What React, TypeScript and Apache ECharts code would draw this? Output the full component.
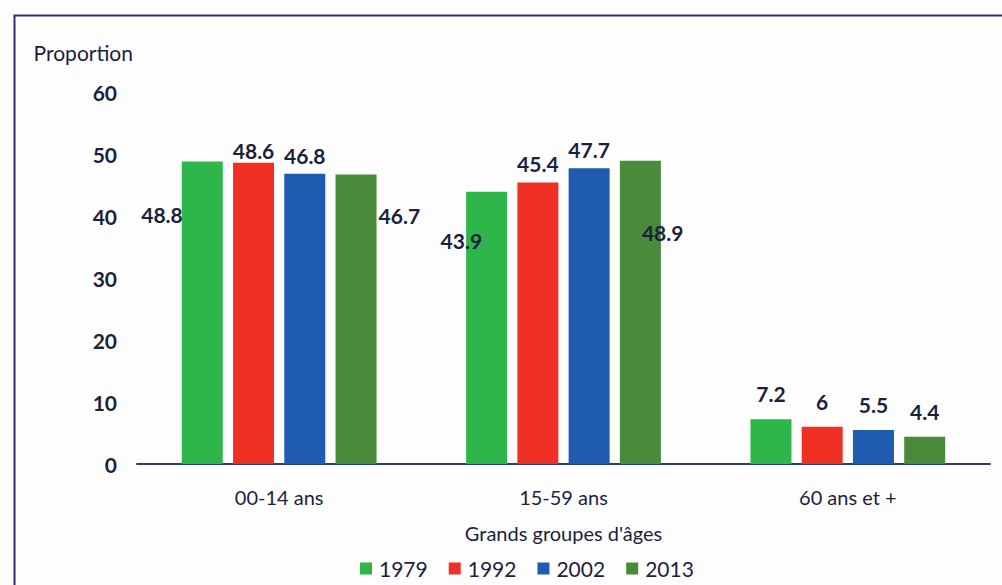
import React, { useEffect, useRef } from "react";
import * as echarts from "echarts";

const categories = ["00-14 ans", "15-59 ans", "60 ans et +"];
const years = ["1979", "1992", "2002", "2013"];
const values1979 = [48.8, 43.9, 7.2];
const values1992 = [48.6, 45.4, 6];
const values2002 = [46.8, 47.7, 5.5];
const values2013 = [46.7, 48.9, 4.4];
const yTicks = { min: 0, max: 60, interval: 10 };

const seriesValues = [values1979, values1992, values2002, values2013];
const colors = ["#2fb64a", "#ee3124", "#1f5bb0", "#4a8a3b"];
const textColor = "#1c1f3f";
const font = "Lato, 'Open Sans', sans-serif";

// label placement overrides (series index - category index)
const labelOverrides: Record<string, any> = {
  "0-0": { position: [1, 53], align: "right", verticalAlign: "middle" },
  "3-0": { position: [43, 41], align: "left", verticalAlign: "middle" },
  "0-1": { position: [16, 49], align: "right", verticalAlign: "middle" },
  "3-1": { position: [22, 72], align: "left", verticalAlign: "middle" },
  "1-0": { position: "top", distance: 2 },
  "2-0": { position: "top", distance: 8 },
  "1-1": { position: "top", distance: 9 },
  "2-1": { position: "top", distance: 8 },
  "0-2": { position: "top", distance: 15 },
  "1-2": { position: "top", distance: 15 },
  "2-2": { position: "top", distance: 15 },
  "3-2": { position: "top", distance: 15 },
};

export default function App() {
  const ref = useRef<HTMLDivElement>(null);
  useEffect(() => {
    document.body.style.margin = "0";
    const chart = echarts.init(ref.current!, null, { renderer: "svg" });
    chart.setOption({
      animation: false,
      backgroundColor: "#fdfdfd",
      textStyle: { fontFamily: font },
      graphic: [
        {
          type: "rect",
          left: 12,
          top: 13,
          shape: { width: 1020, height: 620 },
          style: { fill: "none", stroke: "#2b3170", lineWidth: 2 },
          silent: true,
        },
      ],
      grid: { left: 137, right: 12, top: 92, bottom: 121, containLabel: false },
      legend: {
        data: years,
        left: 355,
        top: 553,
        itemWidth: 12,
        itemHeight: 12,
        itemGap: 21,
        icon: "rect",
        textStyle: { fontSize: 21, color: textColor, fontFamily: font, padding: [0, 0, 0, 2] },
      },
      xAxis: {
        type: "category",
        data: categories,
        name: "Grands groupes d'âges",
        nameLocation: "middle",
        nameGap: 59,
        nameTextStyle: { fontSize: 20, color: textColor, fontFamily: font },
        axisLine: { show: true, lineStyle: { color: "#2d3a78", width: 2 } },
        axisTick: { show: false },
        axisLabel: { fontSize: 20, color: textColor, margin: 23, fontFamily: font },
      },
      yAxis: {
        type: "value",
        min: yTicks.min,
        max: yTicks.max,
        interval: yTicks.interval,
        name: "Proportion",
        nameLocation: "end",
        nameGap: 40,
        nameTextStyle: {
          fontSize: 21,
          color: textColor,
          align: "right",
          verticalAlign: "middle",
          padding: [0, 4, 0, 0],
          fontFamily: font,
        },
        axisLine: { show: false },
        axisTick: { show: false },
        splitLine: { show: false },
        axisLabel: { fontSize: 21, fontWeight: "bold", color: textColor, margin: 20, fontFamily: font },
      },
      series: seriesValues.map((vals, s) => ({
        type: "bar",
        name: years[s],
        barWidth: 41,
        barGap: "25%",
        itemStyle: { color: colors[s] },
        label: {
          show: true,
          fontSize: 21,
          fontWeight: "bold",
          color: textColor,
          fontFamily: font,
        },
        data: vals.map((v, i) => ({
          value: v,
          label: { show: true, ...(labelOverrides[`${s}-${i}`] || { position: "top" }) },
        })),
      })),
    });
    return () => chart.dispose();
  }, []);
  return <div ref={ref} style={{ position: "absolute", left: 0, top: 0, width: 1002, height: 585 }} />;
}
